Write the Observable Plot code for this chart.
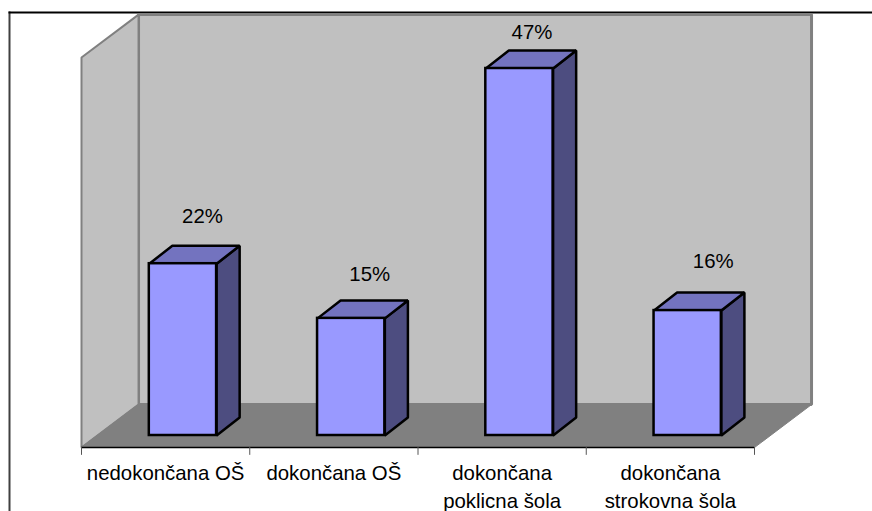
<!DOCTYPE html>
<html>
<head>
<meta charset="utf-8">
<script src="https://cdn.jsdelivr.net/npm/d3@7"></script>
<script src="https://cdn.jsdelivr.net/npm/@observablehq/plot@0.6"></script>
<style>
  html, body { margin: 0; padding: 0; background: #fff; overflow: hidden; }
  svg { display: block; }
</style>
</head>
<body>
<div id="chart"></div>
<script>
// Education level shares
const categories = ["nedokončana OŠ", "dokončana OŠ", "dokončana\npoklicna šola", "dokončana\nstrokovna šola"];
const shares = [22, 15, 47, 16];

// Extruded look, expressed in scale units (categories across, percent up)
const roomTop = 53.9;
const floorDrop = -1.54;
const roomDepthX = 0.339;
const roomDepthY = 5.5;
const barDepthX = 0.137;
const barDepthY = 2.3;
const barStart = 0.403;
const barWidth = 0.4;

// Hand placement of each value label relative to the bar's top back edge
const labelNudge = [[20, -29], [19, -26], [13, -18], [26, -31]];

const rows = shares.map((value, i) => ({
  category: categories[i],
  value,
  x1: i + barStart,
  x2: i + barStart + barWidth
}));

const polygon = (id, points) => points.map(([x, y]) => ({id, x, y}));

const n = categories.length;
const backWall = polygon("back", [
  [roomDepthX, floorDrop + roomDepthY], [n + roomDepthX, floorDrop + roomDepthY],
  [n + roomDepthX, roomTop], [roomDepthX, roomTop]
]);
const sideWall = polygon("side", [
  [0, floorDrop], [roomDepthX, floorDrop + roomDepthY],
  [roomDepthX, roomTop], [0, roomTop - roomDepthY]
]);
const floor = polygon("floor", [
  [0, floorDrop], [n, floorDrop],
  [n + roomDepthX, floorDrop + roomDepthY], [roomDepthX, floorDrop + roomDepthY]
]);
const barTops = rows.flatMap((d, i) => polygon(i, [
  [d.x1, d.value], [d.x2, d.value],
  [d.x2 + barDepthX, d.value + barDepthY], [d.x1 + barDepthX, d.value + barDepthY]
]));
const barSides = rows.flatMap((d, i) => polygon(i, [
  [d.x2, 0], [d.x2 + barDepthX, barDepthY],
  [d.x2 + barDepthX, d.value + barDepthY], [d.x2, d.value]
]));

const face = (data, fill, stroke, strokeWidth) => Plot.line(data, {
  x: "x", y: "y", z: "id", fill, stroke, strokeWidth,
  curve: "linear-closed", strokeLinejoin: "miter"
});

const chart = Plot.plot({
  width: 872,
  height: 511,
  marginLeft: 9,
  marginTop: 12,
  marginRight: 0,
  marginBottom: 0,
  style: {background: "#fff", fontFamily: "'Liberation Sans', Arial, sans-serif"},
  x: {axis: null, domain: [0, n], range: [81, 754]},
  y: {axis: null, domain: [0, 47], range: [435, 68]},
  marks: [
    Plot.frame({anchor: "left", stroke: "#404040", strokeWidth: 2}),
    Plot.frame({anchor: "top", stroke: "#000", strokeWidth: 2}),
    face(backWall, "#c0c0c0", "#808080", 3),
    face(sideWall, "#c0c0c0", "#808080", 2),
    face(floor, "#808080", "#808080", 1),
    face(barSides, "#4d4d80", "#000", 2.5),
    face(barTops, "#7373bf", "#000", 2.5),
    Plot.rect(rows, {x1: "x1", x2: "x2", y1: 0, y2: "value", fill: "#9999ff", stroke: "#000", strokeWidth: 2.5}),
    Plot.ruleY([floorDrop], {x1: 0, x2: n, stroke: "#000", strokeWidth: 1.5}),
    Plot.ruleX(d3.range(n + 1), {y1: floorDrop, y2: floorDrop - 1, stroke: "#555", strokeWidth: 1}),
    Plot.text(rows, {
      x: (d, i) => i + 0.5,
      y: floorDrop,
      text: "category",
      dy: 12,
      lineAnchor: "top",
      lineHeight: 1.4,
      fontSize: 20.4,
      fill: "#000"
    }),
    ...rows.map((d, i) => Plot.text([d], {
      x: (d.x1 + d.x2) / 2 + barDepthX / 2,
      y: d.value + barDepthY,
      text: (r) => `${r.value}%`,
      dx: labelNudge[i][0] - 12,
      dy: labelNudge[i][1],
      fontSize: 20.4,
      fill: "#000"
    }))
  ]
});
document.getElementById("chart").append(chart);
</script>
</body>
</html>
